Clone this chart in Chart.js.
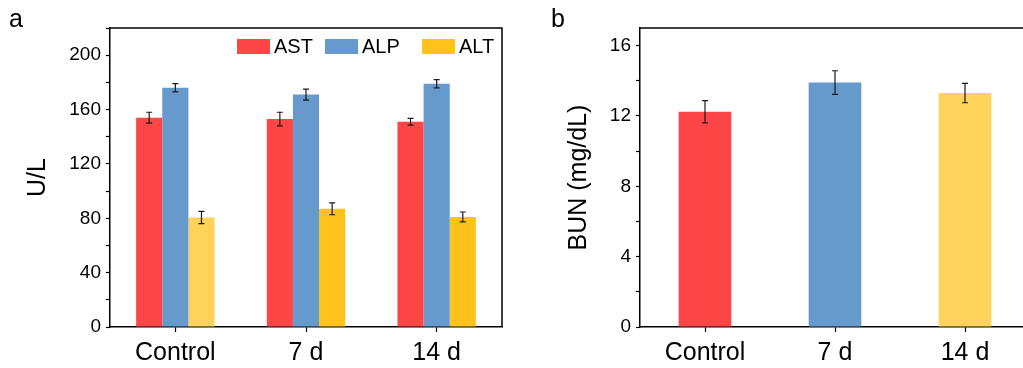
<!DOCTYPE html>
<html><head><meta charset="utf-8">
<script src="https://cdn.jsdelivr.net/npm/chart.js@4.4.1/dist/chart.umd.min.js"></script>
<style>
html,body{margin:0;padding:0;background:#fff;overflow:hidden;width:1023px;height:368px;}
#wa{position:absolute;left:0;top:0;width:520px;height:368px;}
#wb{position:absolute;left:520px;top:0;width:515px;height:368px;}
.lbl{position:absolute;font-family:"Liberation Sans",Arial,sans-serif;font-size:25px;color:#000;}
</style></head><body>
<div id="wa"><canvas id="ca" width="520" height="368"></canvas></div>
<div id="wb"><canvas id="cb" width="515" height="368"></canvas></div>
<div class="lbl" style="left:9px;top:4px;">a</div>
<div class="lbl" style="left:551px;top:4px;">b</div>
<script>
// ---- data ----
const categories = ['Control', '7 d', '14 d'];
const astValues = [154, 153, 151];
const astErrors = [4, 5, 2.5];
const alpValues = [176, 171, 179];
const alpErrors = [3, 4, 3];
const altValues = [80.6, 87, 81];
const altErrors = [4.5, 4.4, 3.6];
const bunValues = [12.24, 13.9, 13.3];
const bunErrors = [0.63, 0.67, 0.55];
const yTicksA = [0, 40, 80, 120, 160, 200];
const yTicksB = [0, 4, 8, 12, 16];

const FONT = '"Liberation Sans", Arial, sans-serif';
const RED = '#FF4646', BLUE = '#6699CC', YEL_L = '#FFD35A', YEL = '#FFC21B';

const errorBars = {
  id: 'errorBars',
  afterDatasetsDraw(chart) {
    const ctx = chart.ctx;
    const y = chart.scales.y;
    ctx.save();
    ctx.strokeStyle = '#1a1a1a';
    ctx.lineWidth = 1.2;
    chart.data.datasets.forEach((ds, i) => {
      const meta = chart.getDatasetMeta(i);
      meta.data.forEach((bar, j) => {
        const v = ds.data[j], e = ds.errors[j];
        const x = bar.x;
        const y1 = y.getPixelForValue(v + e), y2 = y.getPixelForValue(v - e);
        ctx.beginPath();
        ctx.moveTo(x, y1); ctx.lineTo(x, y2);
        ctx.moveTo(x - 3, y1); ctx.lineTo(x + 3, y1);
        ctx.moveTo(x - 3, y2); ctx.lineTo(x + 3, y2);
        ctx.stroke();
      });
    });
    ctx.restore();
  }
};

const frame = {
  id: 'frame',
  afterDraw(chart) {
    const {left, right, top, bottom} = chart.chartArea;
    const ctx = chart.ctx;
    ctx.save();
    ctx.strokeStyle = '#000';
    ctx.lineWidth = 1.5;
    ctx.beginPath();
    ctx.moveTo(left, top); ctx.lineTo(right, top); ctx.lineTo(right, bottom);
    ctx.stroke();
    ctx.restore();
  }
};

const legendA = {
  id: 'legendA',
  afterDraw(chart) {
    const ctx = chart.ctx;
    const items = [
      {x: 237, text: chart.data.datasets[0].label, color: RED},
      {x: 325, text: chart.data.datasets[1].label, color: BLUE},
      {x: 422, text: chart.data.datasets[2].label, color: YEL}
    ];
    ctx.save();
    ctx.font = '20px ' + FONT;
    ctx.textBaseline = 'middle';
    ctx.fillStyle = '#000';
    items.forEach(it => {
      ctx.fillStyle = it.color;
      ctx.fillRect(it.x, 39, 33, 15);
      ctx.fillStyle = '#000';
      ctx.fillText(it.text, it.x + 37, 47);
    });
    ctx.restore();
  }
};

function yScale(max, ticks, step, titleText, titlePad, width) {
  return {
    min: 0, max: max,
    afterFit: s => { s.width = width; },
    afterBuildTicks: s => {
      const arr = [];
      for (let v = 0; v <= max + 1e-9; v += step) arr.push({value: v});
      s.ticks = arr;
    },
    border: {display: true, color: '#000', width: 1.5},
    grid: {drawOnChartArea: false, drawTicks: true, tickLength: 4, tickColor: '#000', tickWidth: 1.2},
    ticks: {
      padding: 5, color: '#000', font: {family: FONT, size: 19},
      callback: v => ticks.includes(v) ? String(v) : ''
    },
    title: {display: true, text: titleText, color: '#000', font: {family: FONT, size: 25}, padding: {top: titlePad, bottom: 0}}
  };
}

function xScale() {
  return {
    afterFit: s => { s.height = 41; },
    border: {display: true, color: '#000', width: 1.5},
    grid: {drawOnChartArea: false, drawTicks: true, tickLength: 5, tickColor: '#000', tickWidth: 1.2, offset: false},
    ticks: {padding: 6, color: '#000', font: {family: FONT, size: 25}}
  };
}

new Chart(document.getElementById('ca'), {
  type: 'bar',
  data: {
    labels: categories,
    datasets: [
      {label: 'AST', data: astValues, errors: astErrors, backgroundColor: RED},
      {label: 'ALP', data: alpValues, errors: alpErrors, backgroundColor: BLUE},
      {label: 'ALT', data: altValues, errors: altErrors, backgroundColor: [YEL_L, YEL, YEL]}
    ]
  },
  options: {
    responsive: false, animation: false,
    layout: {padding: {left: 0, right: 18, top: 28, bottom: 0}},
    datasets: {bar: {categoryPercentage: 0.6, barPercentage: 1}},
    plugins: {legend: {display: false}, tooltip: {enabled: false}},
    scales: {x: xScale(), y: yScale(220, yTicksA, 20, 'U/L', 23, 110)}
  },
  plugins: [errorBars, frame, legendA]
});

new Chart(document.getElementById('cb'), {
  type: 'bar',
  data: {
    labels: categories,
    datasets: [
      {label: 'BUN', data: bunValues, errors: bunErrors, backgroundColor: [RED, BLUE, YEL_L]}
    ]
  },
  options: {
    responsive: false, animation: false,
    layout: {padding: {left: 0, right: 5, top: 28, bottom: 0}},
    datasets: {bar: {categoryPercentage: 0.405, barPercentage: 1}},
    plugins: {legend: {display: false}, tooltip: {enabled: false}},
    scales: {x: xScale(), y: yScale(17, yTicksB, 2, 'BUN (mg/dL)', 44, 120)}
  },
  plugins: [errorBars, frame]
});
</script>
</body></html>
